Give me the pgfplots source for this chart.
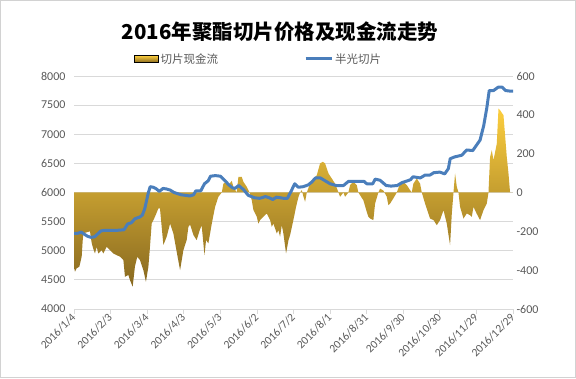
\documentclass[border=0pt]{standalone}
\usepackage{pgfplots}
\pgfplotsset{compat=1.18}
\usepackage{fontspec}
\setmainfont{Carlito}
\newfontfamily\cjk{Noto Sans CJK SC}
\definecolor{lineblue}{RGB}{74,126,187}
\definecolor{tickgray}{RGB}{89,89,89}
\definecolor{gridgray}{RGB}{217,217,217}
\definecolor{goldtop}{RGB}{252,206,62}
\definecolor{goldmid}{RGB}{225,179,58}
\definecolor{goldbot}{RGB}{135,104,32}
\begin{document}
\begin{tikzpicture}[x=1pt,y=1pt]
\useasboundingbox (0,0) rectangle (576,378);
\draw[gray!35] (0.5,0.5) rectangle (575.5,377.5);
\pgfplotsset{common/.style={width=439pt,height=233pt,scale only axis,at={(74pt,69pt)},anchor=south west,xmin=0,xmax=360,
  ticklabel style={font=\fontsize{12}{14}\selectfont, color=tickgray}}}
% axis 1: grid, left ticks, x axis
\begin{axis}[common, ymin=4000, ymax=8000,
  ytick={4000,4500,5000,5500,6000,6500,7000,7500,8000},
  yticklabels={4000,4500,5000,5500,6000,6500,7000,7500,8000},
  ymajorgrids, grid style={gridgray, line width=0.8pt},
  axis x line*=bottom, axis y line*=left,
  y axis line style={draw=none}, ytick style={draw=none},
  x axis line style={gridgray, line width=0.8pt, -},
  xtick={0,30,...,360}, xtick style={gridgray, line width=0.8pt},
  tick align=outside, major tick length=5pt,
  xticklabels={2016/1/4,2016/2/3,2016/3/4,2016/4/3,2016/5/3,2016/6/2,2016/7/2,2016/8/1,2016/8/31,2016/9/30,2016/10/30,2016/11/29,2016/12/29},
  xticklabel style={rotate=45, anchor=east, xshift=2pt, yshift=-1pt, font=\fontsize{11.5}{13}\selectfont},
]
\end{axis}
% axis 2: cash flow area, right axis
\begin{axis}[common, ymin=-600, ymax=600,
  axis y line*=right, axis x line=none,
  ytick={-600,-400,-200,0,200,400,600},
  yticklabels={-600,-400,-200,0,200,400,600},
  y axis line style={draw=none}, ytick style={draw=none},
]
\addplot[draw=none, top color=goldtop, middle color=goldmid, bottom color=goldbot] coordinates {
(0,-382)(0.8,-408)(2.2,-390)(4.4,-382)(6.3,-330)(7.1,-250)(7.7,-210)(13.1,-200)(14.5,-260)(15.8,-290)(17.2,-314)(18.6,-280)(19.9,-314)(22.7,-297)(24.0,-314)(26.8,-280)(29.5,-297)(32.2,-314)(37.8,-331)(40.5,-348)(41.8,-434)(44.6,-425)(45.9,-451)(48.1,-485)(50,-380)(51.9,-331)(54.1,-348)(56.9,-400)(59,-460)(61,-382)(62.3,-280)(63.7,-160)(66.4,-125)(69.2,-82)(70.5,-82)(71.9,-177)(73.3,-270)(76,-228)(78.8,-160)(81.5,-211)(84.2,-305)(87,-400)(89.7,-297)(92.4,-245)(93.8,-177)(95.2,-165)(98,-220)(100.6,-245)(103.3,-190)(104.7,-170)(106.1,-262)(107,-322)(108.3,-245)(110.2,-262)(111.6,-211)(113,-160)(115.7,-74)(118.4,-22)(121.2,0)(122.5,46)(125.3,55)(126.6,38)(129.4,60)(130.7,29)(133.5,0)(134.8,80)(137.6,80)(138.9,55)(141.7,29)(143.9,0)(145.8,-40)(147.1,-90)(149.9,-125)(151.2,-160)(152.6,-142)(155.3,-125)(158.1,-108)(160.8,-142)(162.2,-177)(163.5,-160)(166.3,-211)(167.6,-194)(169,-228)(170.4,-168)(171.7,-211)(173.9,-314)(175.9,-245)(177.2,-220)(179.9,-142)(182.1,-74)(184.1,-22)(185.4,0)(186.8,12)(188.2,-22)(189.5,-48)(190.9,0)(193.6,46)(196.4,72)(199.1,89)(201.8,150)(204,158)(205.9,150)(208.7,98)(211.4,72)(214.1,46)(216.9,0)(218.2,-22)(220.9,0)(222.3,-22)(225,0)(226.4,38)(229.1,55)(231.9,38)(233.2,0)(234.6,-14)(237.3,-40)(240.1,-100)(241.4,-125)(242.8,-134)(245.5,-142)(246.9,-57)(249.6,0)(251,20)(253.7,10)(256.5,-22)(257.8,-65)(259.2,-57)(261.9,-30)(264.7,0)(267.4,46)(270.1,55)(272.9,38)(275.6,12)(277,0)(278.3,46)(281.1,72)(283.8,46)(285.2,0)(287.9,-57)(292,-134)(294.8,-142)(297.5,-168)(300.2,-142)(303,-91)(305.7,-160)(308.4,-271)(309.8,-110)(311.2,0)(312.5,98)(313.9,30)(315.3,0)(316.6,-74)(319.4,-134)(322.1,-108)(324.8,-117)(326.2,-125)(327.6,-74)(330.3,-110)(333,-142)(335.8,-91)(338.5,-57)(339.9,0)(341.2,183)(342.6,218)(344,166)(346.7,252)(348.1,432)(349.4,424)(352.2,398)(354.9,183)(356.3,98)(357.6,0)(360,0)
} \closedcycle;
\end{axis}
% axis 3: price line
\begin{axis}[common, ymin=4000, ymax=8000, hide axis,
  legend columns=2,
  legend style={at={(axis description cs:0.13,1.073)}, anchor=west, draw=none, fill=none,
    font=\cjk\fontsize{11.5}{13}\selectfont, text=tickgray,
    /tikz/every even column/.append style={column sep=84pt}},
]
\addlegendimage{legend image code/.code={\shade[top color=goldtop,bottom color=goldbot] (0pt,-3.5pt) rectangle (24pt,3.5pt);}}
\addlegendentry{切片现金流}
\addplot[lineblue, line width=3pt, line join=round, legend image code/.code={\draw[lineblue, line width=3pt] (0pt,0pt) -- (26pt,0pt);}] coordinates {
(0,5300)(3,5300)(6,5320)(8,5290)(11,5250)(14,5230)(17,5240)(19,5280)(22,5340)(25,5350)(30,5350)(35,5350)(41,5360)(44,5460)(47,5480)(50,5550)(54,5580)(56,5610)(58,5720)(59.5,5860)(61,6000)(62.5,6100)(65,6090)(67,6070)(70,6020)(73,6070)(76,6060)(79,6040)(82,6000)(85,5980)(88,5960)(92,5950)(95,5940)(98,5960)(100,6030)(104,6030)(107,6150)(110,6200)(112,6280)(116,6290)(120,6280)(124,6200)(127,6130)(130,6080)(132,6070)(135,6120)(139,6050)(143,5950)(148,5910)(152,5900)(154,5910)(157,5930)(160,5910)(163,5880)(166,5920)(169,5910)(172,5900)(175,5900)(178,6020)(181,6150)(184,6090)(188,6100)(192,6130)(195,6180)(198,6250)(202,6250)(206,6200)(210,6150)(215,6120)(221,6120)(225,6190)(230,6190)(238,6190)(240,6150)(245,6150)(247,6230)(251,6210)(256,6120)(260,6110)(265,6120)(269,6170)(272,6190)(276,6220)(278,6270)(284,6250)(288,6300)(292,6300)(295,6340)(300,6350)(304,6320)(307,6410)(308.5,6580)(312,6610)(318,6640)(322,6730)(327,6720)(330,6810)(333,6900)(336,7150)(338.5,7450)(340.5,7750)(344,7750)(348,7810)(351,7810)(354,7750)(358,7740)(360,7740)
};
\addlegendentry{半光切片}
\end{axis}
\node[font=\cjk\bfseries\fontsize{20.5}{22}\selectfont] at (280,346) {2016年聚酯切片价格及现金流走势};
\end{tikzpicture}
\end{document}
